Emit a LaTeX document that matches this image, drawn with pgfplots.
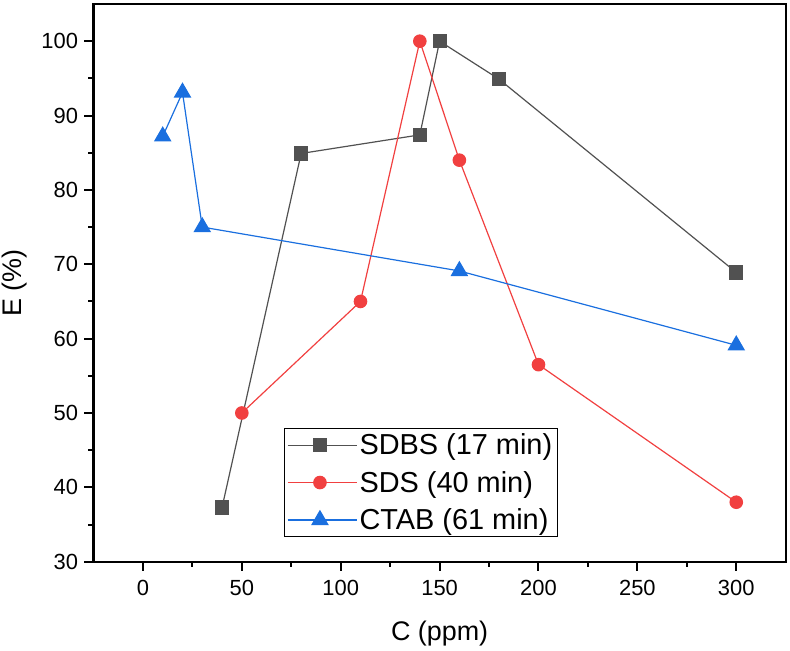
\documentclass[border=0pt]{standalone}
\usepackage{fontspec}
\setmainfont{Liberation Sans}
\usepackage{pgfplots}
\pgfplotsset{compat=1.18}
\definecolor{cgray}{HTML}{515151}
\definecolor{cred}{HTML}{F14040}
\definecolor{cblue}{HTML}{1A6FDF}
\begin{document}
\begin{tikzpicture}
\begin{axis}[
  name=ax,
  scale only axis,
  width=692.2bp, height=557.7bp,
  xmin=-25, xmax=325, ymin=30, ymax=105,
  xtick={0,50,...,300}, ytick={30,40,...,100},
  minor x tick num=1, minor y tick num=1,
  tick align=outside,
  tick pos=left,
  major tick length=9bp, minor tick length=5bp,
  axis line style={line width=2.2bp},
  every tick/.style={black, line width=2bp},
  tick label style={font=\fontsize{22}{26}\selectfont},
  xticklabel style={yshift=-6bp},
  yticklabel style={xshift=-3bp},
  /pgf/number format/assume math mode=true,
  xlabel={C (ppm)}, ylabel={E (\%)},
  label style={font=\fontsize{27}{32}\selectfont},
  xlabel style={at={(axis description cs:0.5,-0.1297)}, anchor=center},
  ylabel style={at={(axis description cs:-0.1134,0.5)}, anchor=center},
  legend style={at={(rel axis cs:0.275,0.044)}, anchor=south west, draw=black, line width=1bp,
    font=\fontsize{29}{34}\selectfont, inner xsep=3bp, inner ysep=3.5bp, row sep=11bp},
  legend cell align=left,
  legend image code/.code={\draw[mark repeat=2,mark phase=2,#1] plot coordinates {(0bp,0bp) (32bp,0bp) (64bp,0bp)};
    \path (0bp,0bp) -- (69bp,0bp);},
]
\addplot[cgray, line width=1.2bp, mark=square*, mark size=6.5bp, mark options={solid, fill=cgray}]
  coordinates {(40,37.3) (80,84.9) (140,87.4) (150,100) (180,94.9) (300,68.9)};
\addlegendentry{SDBS (17 min)}
\addplot[cred, line width=1.2bp, mark=*, mark size=6.2bp, mark options={solid, fill=cred}]
  coordinates {(50,50) (110,65) (140,100) (160,84) (200,56.5) (300,38)};
\addlegendentry{SDS (40 min)}
\addplot[cblue, line width=1.2bp, mark=triangle*, mark size=9bp, mark options={solid, fill=cblue}]
  coordinates {(10,87.2) (20,93.1) (30,75) (160,69.1) (300,59.1)};
\addlegendentry{CTAB (61 min)}
\end{axis}
\pgfresetboundingbox
\path ([xshift=-93.5bp,yshift=-89.3bp]ax.south west) rectangle ([xshift=4.3bp,yshift=4bp]ax.north east);
\end{tikzpicture}
\end{document}
